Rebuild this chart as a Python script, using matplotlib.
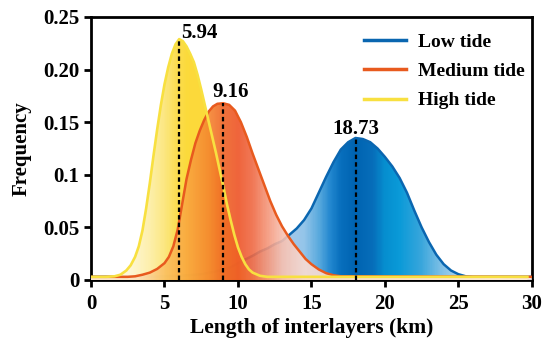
import numpy as np
import matplotlib
matplotlib.use("Agg")
import matplotlib.pyplot as plt
from matplotlib.colors import LinearSegmentedColormap
from matplotlib.patches import Polygon

plt.rcParams['font.family'] = ['Liberation Serif', 'DejaVu Serif']
plt.rcParams['font.weight'] = 'bold'

# curves (length in km, frequency)
low_x = [0, 4.0, 5.0, 6.0, 7.0, 7.5, 8.0, 8.5, 9.0, 9.5, 10.0, 10.5, 11.0, 11.5, 12.0,
         12.5, 13.0, 13.5, 14.0, 14.5, 15.0, 15.5, 16.0, 16.5, 17.0, 17.5, 18.0, 18.5,
         19.0, 19.5, 20.0, 20.5, 21.0, 21.5, 22.0, 22.5, 23.0, 23.5, 24.0, 24.5, 25.0,
         25.5, 26.0, 30]
low_y = [0.003, 0.003, 0.0035, 0.004, 0.0048, 0.0055, 0.0068, 0.0082, 0.0098, 0.012,
         0.016, 0.0195, 0.023, 0.027, 0.030, 0.034, 0.037, 0.043, 0.049, 0.057, 0.068,
         0.083, 0.098, 0.112, 0.124, 0.131, 0.135, 0.134, 0.131, 0.125, 0.117, 0.108,
         0.097, 0.083, 0.066, 0.050, 0.036, 0.024, 0.015, 0.009, 0.0055, 0.0035, 0.003,
         0.003]

med_x = [0, 2.5, 3.0, 3.5, 4.0, 4.5, 5.0, 5.3, 5.6, 5.9, 6.2, 6.5, 6.8, 7.1, 7.4, 7.7,
         8.0, 8.3, 8.6, 9.0, 9.4, 9.8, 10.2, 10.6, 11.0, 11.4, 11.8, 12.2, 12.6, 13.0,
         13.4, 13.8, 14.2, 14.6, 15.0, 15.5, 16.0, 16.5, 17.0, 30]
med_y = [0.003, 0.003, 0.0035, 0.005, 0.007, 0.0105, 0.016, 0.022, 0.032, 0.048, 0.072,
         0.096, 0.114, 0.130, 0.142, 0.152, 0.160, 0.165, 0.1675, 0.168, 0.1665, 0.161,
         0.150, 0.136, 0.120, 0.105, 0.090, 0.075, 0.062, 0.051, 0.042, 0.034, 0.027,
         0.020, 0.015, 0.010, 0.0065, 0.0045, 0.0035, 0.003]

high_x = [0, 1.0, 1.6, 2.0, 2.4, 2.7, 3.0, 3.25, 3.5, 3.75, 4.0, 4.25, 4.5, 4.75, 5.0,
          5.25, 5.5, 5.75, 6.0, 6.25, 6.5, 6.75, 7.0, 7.25, 7.5, 7.75, 8.0, 8.25, 8.5,
          8.75, 9.0, 9.25, 9.5, 9.75, 10.0, 10.25, 10.5, 10.75, 11.0, 11.5, 12.0, 29.7]
high_y = [0.003, 0.003, 0.0035, 0.005, 0.009, 0.014, 0.022, 0.032, 0.047, 0.068, 0.092,
          0.118, 0.143, 0.166, 0.186, 0.202, 0.215, 0.224, 0.229, 0.227, 0.222, 0.215,
          0.207, 0.195, 0.181, 0.166, 0.151, 0.136, 0.121, 0.105, 0.089, 0.072, 0.057,
          0.043, 0.031, 0.022, 0.015, 0.010, 0.007, 0.004, 0.003, 0.003]

peaks = ['5.94', '9.16', '18.73']
peak_x = [6.0, 9.0, 18.0]
peak_y = [0.229, 0.168, 0.135]
labels = ['Low tide', 'Medium tide', 'High tide']

# horizontal colour stops (x position, colour)
blue_stops = [(0, '#d8e4f2'), (11, '#c4d6ec'), (13, '#a9c9ea'), (14.5, '#94c5e9'),
              (15.5, '#5aaade'), (16.3, '#2287cf'), (17.0, '#086fbd'), (18.0, '#0063b1'),
              (19.2, '#076eba'), (20.0, '#068ecf'), (21.0, '#0a9ad8'), (22.5, '#38a6dc'),
              (24, '#84c2e7'), (26, '#c8e2f2'), (30, '#e0eef8')]
orange_stops = [(0, '#fde6cc'), (3, '#fde0bc'), (5, '#fbc060'), (6.5, '#f9a640'),
                (8, '#f5852e'), (9, '#ef6224'), (10, '#ee5326'), (11, '#f06a44'),
                (12, '#f4967a'), (13, '#f7c0b0'), (14.5, '#fadcd2'), (30, '#fff0ea')]
yellow_stops = [(0, '#fffbe6'), (2.5, '#fef6d4'), (4, '#fdeea0'), (5, '#fce470'),
                (5.8, '#fbd93c'), (6.5, '#fcd624'), (30, '#fdd520')]


def gradient_fill(ax, x, y, stops, alpha, z):
    pts = np.column_stack([np.r_[x[0], x, x[-1]], np.r_[0, y, 0]])
    patch = Polygon(pts, closed=True, facecolor='none', edgecolor='none')
    ax.add_patch(patch)
    cmap = LinearSegmentedColormap.from_list(
        'g', [(p / 30.0, c) for p, c in stops])
    img = ax.imshow(np.linspace(0, 1, 600)[None, :], cmap=cmap, aspect='auto',
                    extent=[0, 30, 0, 0.25], alpha=alpha, zorder=z,
                    interpolation='bilinear')
    img.set_clip_path(patch)


fig = plt.figure(figsize=(5.5, 3.4), dpi=100)
ax = fig.add_axes([0.1655, 0.1765, 0.8015, 0.7735])

gradient_fill(ax, low_x, low_y, blue_stops, 1.0, 1)
ax.plot(low_x, low_y, color='#0a66b0', lw=1.8, zorder=2, label=labels[0])
gradient_fill(ax, high_x, high_y, yellow_stops, 0.9, 3)
gradient_fill(ax, med_x, med_y, orange_stops, 0.9, 4)
ax.plot(med_x, med_y, color='#e85a1e', lw=1.8, zorder=5, label=labels[1])
ax.plot(high_x, high_y, color='#f8e040', lw=1.9, zorder=6, label=labels[2])

for i in range(3):
    ax.plot([peak_x[i], peak_x[i]], [0, peak_y[i]], color='black', lw=1.6,
            ls=(0, (2, 1.4)), zorder=7)

ax.text(6.1, 0.2305, peaks[0], fontsize=15, ha='left', va='baseline')
ax.text(9.5, 0.1735, peaks[1], fontsize=15, ha='center', va='baseline')
ax.text(18.05, 0.1385, peaks[2], fontsize=15, ha='center', va='baseline')

ax.set_xlim(0, 30)
ax.set_ylim(0, 0.25)
ax.set_xticks([0, 5, 10, 15, 20, 25, 30])
ax.set_yticks([0, 0.05, 0.1, 0.15, 0.2, 0.25])
ax.set_yticklabels(['0', '0.05', '0.1', '0.15', '0.20', '0.25'])
ax.tick_params(labelsize=15, width=2, length=5, direction='out')
ax.tick_params(axis='x', pad=5)
for s in ax.spines.values():
    s.set_linewidth(2)
ax.set_xlabel('Length of interlayers (km)', fontsize=15.5, fontweight='bold', labelpad=3)
ax.set_ylabel('Frequency', fontsize=15, fontweight='bold', labelpad=8)

leg = ax.legend(loc='upper right', bbox_to_anchor=(1.015, 0.99), frameon=False,
                handlelength=2.2, handletextpad=0.6, labelspacing=0.6,
                borderaxespad=0.3, prop={'weight': 'bold', 'size': 14})
for line in leg.get_lines():
    line.set_linewidth(2.5)

fig.savefig('out.png', dpi=100)
